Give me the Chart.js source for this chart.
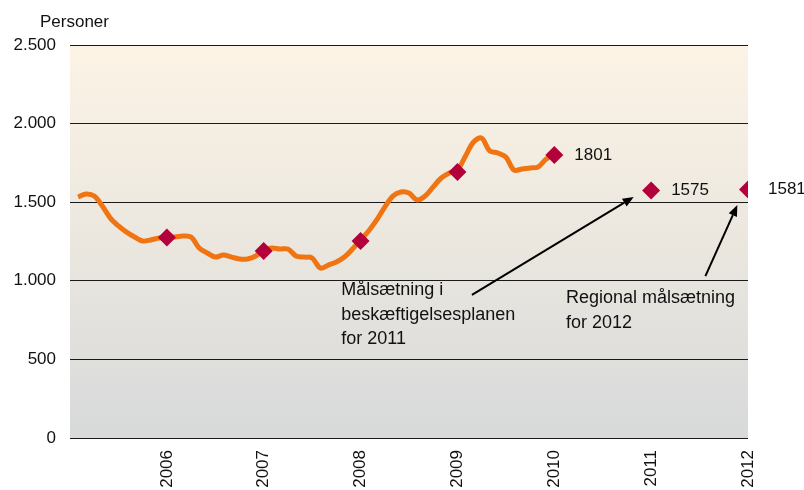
<!DOCTYPE html>
<html>
<head>
<meta charset="utf-8">
<script src="https://cdn.jsdelivr.net/npm/chart.js@4.4.0/dist/chart.umd.min.js"></script>
<style>
html,body{margin:0;padding:0;background:#fff;}
#wrap{width:804px;height:490px;}
</style>
</head>
<body>
<div id="wrap"><canvas id="c" width="804" height="490"></canvas></div>
<script>
// Monthly series, Jan 2005 .. Dec 2009 (persons)
const monthlyStartYear = 2005;
const monthlyValues = [
  1533,1552,1539,1476,1399,1349,1310,1279,1253,1260,1272,1279,
  1279,1285,1279,1209,1177,1151,1164,1151,1139,1139,1158,1196,
  1209,1202,1202,1158,1151,1145,1081,1100,1120,1151,1202,1260,
  1317,1387,1469,1539,1565,1558,1514,1539,1597,1654,1686,1705,
  1794,1883,1908,1826,1813,1787,1705,1711,1718,1724,1775,1800
];
// Yearly markers
const markerYears = [2006, 2007, 2008, 2009, 2010, 2011, 2012];
const markerValues = [1275, 1190, 1253, 1692, 1801, 1575, 1581];
const markerLabels = ['', '', '', '', '1801', '1575', '1581'];
// Axis
const yTicks = [0, 500, 1000, 1500, 2000, 2500];
const xTickYears = [2006, 2007, 2008, 2009, 2010, 2011, 2012];
// Annotations (data coordinates)
const noteTexts = [
  ['Målsætning i', 'beskæftigelsesplanen', 'for 2011'],
  ['Regional målsætning', 'for 2012']
];
const notePositions = [[2007.80, 941], [2010.12, 890]];
const arrows = [
  [[2009.15, 910], [2010.82, 1533]],
  [[2011.56, 1030], [2011.89, 1482]]
];

const lineData = monthlyValues.map((v, i) => ({x: monthlyStartYear + (i + 1) / 12, y: v}));
const markerData = markerYears.map((yr, i) => ({x: yr, y: markerValues[i]}));

const FONT = '"Liberation Sans", Arial, sans-serif';

const bgPlugin = {
  id: 'bg',
  beforeDraw(chart) {
    const {ctx, chartArea: a} = chart;
    const g = ctx.createLinearGradient(0, a.top, 0, a.bottom);
    g.addColorStop(0, '#fcf3e5');
    g.addColorStop(0.5, '#ebe7df');
    g.addColorStop(1, '#d7d9da');
    ctx.save();
    ctx.fillStyle = g;
    ctx.fillRect(a.left, a.top, a.right - a.left, a.bottom - a.top);
    ctx.restore();
  }
};

const textPlugin = {
  id: 'texts',
  afterDraw(chart) {
    const {ctx} = chart;
    const xs = chart.scales.x, ys = chart.scales.y;
    ctx.save();
    ctx.fillStyle = '#111';
    // axis title
    ctx.font = '17px ' + FONT;
    ctx.textAlign = 'left';
    ctx.textBaseline = 'middle';
    ctx.fillText('Personer', 40, 22);
    // marker labels
    ctx.font = '17px ' + FONT;
    markerYears.forEach((yr, i) => {
      if (!markerLabels[i]) return;
      ctx.fillText(markerLabels[i], xs.getPixelForValue(yr) + 20, ys.getPixelForValue(markerValues[i]));
    });
    // notes
    ctx.font = '18px ' + FONT;
    noteTexts.forEach((lines, k) => {
      const px = xs.getPixelForValue(notePositions[k][0]);
      const py = ys.getPixelForValue(notePositions[k][1]);
      lines.forEach((t, j) => ctx.fillText(t, px, py + j * 24.5));
    });
    // arrows
    ctx.strokeStyle = '#000';
    ctx.fillStyle = '#000';
    ctx.lineWidth = 2;
    arrows.forEach(([s, e]) => {
      const x1 = xs.getPixelForValue(s[0]), y1 = ys.getPixelForValue(s[1]);
      const x2 = xs.getPixelForValue(e[0]), y2 = ys.getPixelForValue(e[1]);
      const ang = Math.atan2(y2 - y1, x2 - x1);
      const L = 11, W = 4.5;
      const bx = x2 - L * Math.cos(ang), by = y2 - L * Math.sin(ang);
      ctx.beginPath();
      ctx.moveTo(x1, y1);
      ctx.lineTo(bx, by);
      ctx.stroke();
      ctx.beginPath();
      ctx.moveTo(x2, y2);
      ctx.lineTo(bx + W * Math.sin(ang), by - W * Math.cos(ang));
      ctx.lineTo(bx - W * Math.sin(ang), by + W * Math.cos(ang));
      ctx.closePath();
      ctx.fill();
    });
    ctx.restore();
  }
};

new Chart(document.getElementById('c'), {
  type: 'scatter',
  data: {
    datasets: [
      {
        data: markerData,
        showLine: false,
        pointStyle: 'rectRot',
        pointRadius: 9,
        pointBackgroundColor: '#b4003a',
        pointBorderColor: '#b4003a',
        pointBorderWidth: 0,
        order: 0
      },
      {
        data: lineData,
        showLine: true,
        borderColor: '#f07412',
        borderWidth: 5,
        pointRadius: 0,
        tension: 0.35,
        fill: false,
        order: 1
      }
    ]
  },
  options: {
    responsive: false,
    animation: false,
    layout: {padding: {top: 45, right: 56, left: 0, bottom: 0}},
    plugins: {legend: {display: false}, tooltip: {enabled: false}},
    scales: {
      x: {
        type: 'linear',
        min: 2005,
        max: 2012,
        afterFit(s) { s.height = 52; },
        afterBuildTicks(s) { s.ticks = [2005].concat(xTickYears).map(v => ({value: v})); },
        grid: {display: false, drawTicks: false},
        border: {display: false},
        ticks: {
          minRotation: 90,
          maxRotation: 90,
          padding: 12,
          color: '#111',
          font: {family: FONT, size: 17},
          callback: v => (xTickYears.includes(v) ? String(v) : '')
        }
      },
      y: {
        min: 0,
        max: 2500,
        afterFit(s) { s.width = 70; },
        afterBuildTicks(s) { s.ticks = yTicks.map(v => ({value: v})); },
        grid: {color: '#1a1a1a', lineWidth: 1, drawTicks: false},
        border: {display: false},
        ticks: {
          padding: 14,
          color: '#111',
          font: {family: FONT, size: 17},
          callback: v => v.toLocaleString('de-DE')
        }
      }
    }
  },
  plugins: [bgPlugin, textPlugin]
});
</script>
</body>
</html>
